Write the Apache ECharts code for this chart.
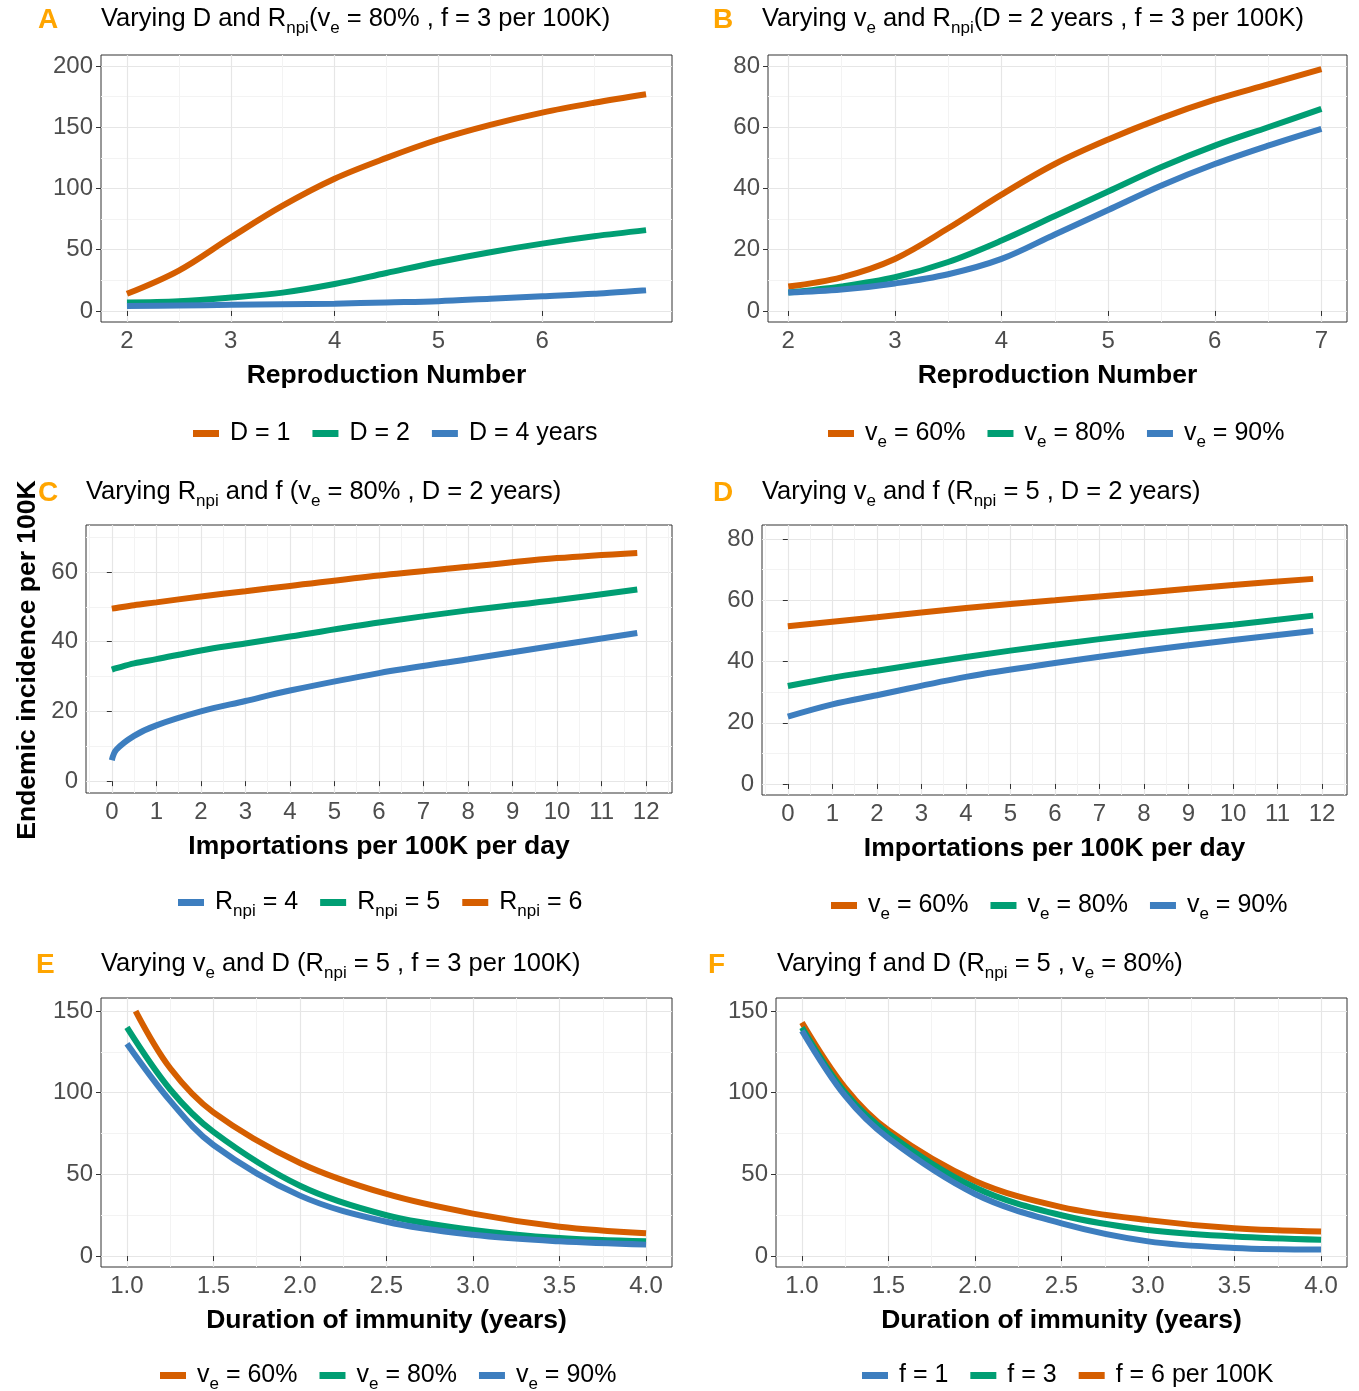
<!DOCTYPE html>
<html><head><meta charset="utf-8">
<script src="https://cdn.jsdelivr.net/npm/echarts@6/dist/echarts.min.js"></script>
<style>html,body{margin:0;background:#fff}#c{width:1359px;height:1391px}</style>
</head><body><div id="c"></div>
<script>
var ORANGE = '#D55E00', GREEN = '#009E73', BLUE = '#3D7EBF';

// Panel A: varying D
var xA = [2, 2.5, 3, 3.5, 4, 4.5, 5, 5.5, 6, 6.5, 7];
var aD1 = [14, 33, 60, 86, 108, 125, 140, 152, 162, 170, 177];
var aD2 = [7, 8, 11, 15, 22, 31, 40, 48, 55, 61, 66];
var aD4 = [4, 4.5, 5, 5.5, 6, 7, 8, 10, 12, 14, 17];
// Panel B: varying ve
var xB = [2, 2.5, 3, 3.5, 4, 4.5, 5, 5.5, 6, 6.5, 7];
var bV60 = [8, 11, 17, 27, 38, 48, 56, 63, 69, 74, 79];
var bV80 = [6, 8, 11, 16, 23, 31, 39, 47, 54, 60, 66];
var bV90 = [6, 7, 9, 12, 17, 25, 33, 41, 48, 54, 59.5];
// Panel C: varying Rnpi
var xC = [0, 0.1, 0.5, 1, 2, 3, 4, 6, 8, 10, 11.8];
var cR6 = [49.5, 49.7, 50.5, 51.3, 53, 54.5, 56, 59, 61.5, 64, 65.5];
var cR5 = [32, 32.4, 33.8, 35, 37.5, 39.5, 41.5, 45.5, 49, 52, 55];
var cR4 = [6, 9, 13, 16, 20, 23, 26, 31, 35, 39, 42.5];
// Panel D: varying ve
var xD = [0, 1, 2, 4, 6, 8, 10, 11.8];
var dV60 = [51.5, 53, 54.5, 57.5, 60, 62.5, 65, 67];
var dV80 = [32, 34.7, 37, 41.5, 45.5, 49, 52, 55];
var dV90 = [22, 26, 29, 35, 39.5, 43.5, 47, 50];
// Panel E: duration, varying ve
var xE = [1, 1.25, 1.5, 2, 2.5, 3, 3.5, 4];
var xE60 = [1.05, 1.25, 1.5, 2, 2.5, 3, 3.5, 4];
var eV60 = [150, 115, 88, 57, 38, 26, 18, 14];
var eV80 = [140, 102, 76, 43, 25, 16, 11, 9];
var eV90 = [130, 95, 68, 37, 21, 13, 9, 7];
// Panel F: duration, varying f
var xF = [1, 1.25, 1.5, 2, 2.5, 3, 3.5, 4];
var fF6 = [143, 103, 77, 46, 30, 22, 17, 15];
var fF3 = [140, 100, 75, 42, 25, 16, 12, 10];
var fF1 = [138, 98, 72, 38, 20, 9, 5, 4];

var ticksRep = [2, 3, 4, 5, 6];
var ticksRep7 = [2, 3, 4, 5, 6, 7];
var ticksImp = [0, 1, 2, 3, 4, 5, 6, 7, 8, 9, 10, 11, 12];
var ticksDur = [1, 1.5, 2, 2.5, 3, 3.5, 4];

function zip(xs, ys) { return xs.map(function (x, i) { return [x, ys[i]]; }); }
function mids(t) {
    var m = [];
    for (var i = 0; i < t.length - 1; i++) m.push((t[i] + t[i + 1]) / 2);
    m.unshift(t[0] - (t[1] - t[0]) / 2);
    m.push(t[t.length - 1] + (t[1] - t[0]) / 2);
    return m;
}

var FONT = 'Liberation Sans';
var sub = { fontSize: 17, verticalAlign: 'bottom', padding: [0, 0, -5, 0], color: '#000', fontFamily: FONT };
var rich = { s: sub };
var grids = [], xAxes = [], yAxes = [], series = [], legends = [], titles = [];

function panel(g, xr, xt, yr, yt, xname, lines, legDef, dec) {
    var gi = grids.length;
    grids.push({ left: g[0], top: g[1], width: g[2] - g[0], height: g[3] - g[1], show: true, borderColor: '#333', borderWidth: 1, backgroundColor: '#fff' });
    var axLab = { fontSize: 24, color: '#4d4d4d', fontFamily: FONT };
    var xi = xAxes.length, yi = yAxes.length;
    xAxes.push({
        type: 'value', gridIndex: gi, min: xr[0], max: xr[1], name: xname, nameLocation: 'middle', nameGap: 40,
        nameTextStyle: { fontSize: 26.5, fontWeight: 'bold', color: '#000', fontFamily: FONT },
        axisLine: { show: false }, axisTick: { show: true, length: 5, lineStyle: { color: '#333' }, customValues: xt },
        axisLabel: Object.assign({ customValues: xt, margin: 7, formatter: function (v) { return dec ? v.toFixed(1) : String(v); } }, axLab),
        splitLine: { show: true, lineStyle: { color: '#e6e6e6', width: 1.2 } }
    });
    xAxes.push({
        type: 'value', gridIndex: gi, min: xr[0], max: xr[1], z: 0, axisLine: { show: false }, axisTick: { show: false, customValues: mids(xt) },
        axisLabel: { show: false, customValues: mids(xt) }, splitLine: { show: true, lineStyle: { color: '#f3f3f3', width: 1 } }
    });
    yAxes.push({
        type: 'value', gridIndex: gi, min: yr[0], max: yr[1],
        axisLine: { show: false }, axisTick: { show: true, length: 5, lineStyle: { color: '#333' }, customValues: yt },
        axisLabel: Object.assign({ customValues: yt, margin: 8 }, axLab),
        splitLine: { show: true, lineStyle: { color: '#e6e6e6', width: 1.2 } }
    });
    yAxes.push({
        type: 'value', gridIndex: gi, min: yr[0], max: yr[1], z: 0, axisLine: { show: false }, axisTick: { show: false, customValues: mids(yt) },
        axisLabel: { show: false, customValues: mids(yt) }, splitLine: { show: true, lineStyle: { color: '#f3f3f3', width: 1 } }
    });
    lines.forEach(function (l) {
        series.push({
            type: 'line', name: l.name, xAxisIndex: xi, yAxisIndex: yi, data: zip(l.x, l.y), smooth: 0.35,
            showSymbol: false, color: l.c, lineStyle: { width: 6, color: l.c, cap: 'butt' }, z: 5
        });
    });
    legends.push({
        left: legDef.left, top: legDef.top, orient: 'horizontal', icon: 'rect', itemWidth: 26, itemHeight: 7, itemGap: 22,
        data: legDef.items, selectedMode: false,
        formatter: function (n) { return legDef.fmt[n]; },
        textStyle: { fontSize: 25, color: '#000', fontFamily: FONT, rich: rich, padding: [0, 0, 0, 6] }
    });
}

panel([101, 55, 672, 322], [1.75, 7.25], ticksRep, [-9, 209], [0, 50, 100, 150, 200], 'Reproduction Number',
    [{ name: 'D = 1', x: xA, y: aD1, c: ORANGE }, { name: 'D = 2', x: xA, y: aD2, c: GREEN }, { name: 'D = 4 years', x: xA, y: aD4, c: BLUE }],
    { left: 188, top: 416, items: ['D = 1', 'D = 2', 'D = 4 years'], fmt: { 'D = 1': 'D = 1', 'D = 2': 'D = 2', 'D = 4 years': 'D = 4 years' } });
panel([768, 55, 1347, 322], [1.81, 7.24], ticksRep7, [-3.6, 83.6], [0, 20, 40, 60, 80], 'Reproduction Number',
    [{ name: 'b60', x: xB, y: bV60, c: ORANGE }, { name: 'b80', x: xB, y: bV80, c: GREEN }, { name: 'b90', x: xB, y: bV90, c: BLUE }],
    { left: 823, top: 416, items: ['b60', 'b80', 'b90'], fmt: { b60: 'v{s|e} = 60%', b80: 'v{s|e} = 80%', b90: 'v{s|e} = 90%' } });
panel([86, 525, 672, 793], [-0.58, 12.58], ticksImp, [-3.4, 73.5], [0, 20, 40, 60], 'Importations per 100K per day',
    [{ name: 'c6', x: xC, y: cR6, c: ORANGE }, { name: 'c5', x: xC, y: cR5, c: GREEN }, { name: 'c4', x: xC, y: cR4, c: BLUE }],
    { left: 173, top: 885, items: ['c4', 'c5', 'c6'], fmt: { c4: 'R{s|npi} = 4', c5: 'R{s|npi} = 5', c6: 'R{s|npi} = 6' } });
panel([762, 525, 1347, 795], [-0.58, 12.56], ticksImp, [-3.6, 84.6], [0, 20, 40, 60, 80], 'Importations per 100K per day',
    [{ name: 'd60', x: xD, y: dV60, c: ORANGE }, { name: 'd80', x: xD, y: dV80, c: GREEN }, { name: 'd90', x: xD, y: dV90, c: BLUE }],
    { left: 826, top: 888, items: ['d60', 'd80', 'd90'], fmt: { d60: 'v{s|e} = 60%', d80: 'v{s|e} = 80%', d90: 'v{s|e} = 90%' } });
panel([101, 998, 672, 1267], [0.85, 4.15], ticksDur, [-6.7, 158], [0, 50, 100, 150], 'Duration of immunity (years)',
    [{ name: 'e60', x: xE60, y: eV60, c: ORANGE }, { name: 'e80', x: xE, y: eV80, c: GREEN }, { name: 'e90', x: xE, y: eV90, c: BLUE }],
    { left: 155, top: 1358, items: ['e60', 'e80', 'e90'], fmt: { e60: 'v{s|e} = 60%', e80: 'v{s|e} = 80%', e90: 'v{s|e} = 90%' } }, true);
panel([776, 998, 1347, 1267], [0.85, 4.15], ticksDur, [-6.7, 158], [0, 50, 100, 150], 'Duration of immunity (years)',
    [{ name: 'f6', x: xF, y: fF6, c: ORANGE }, { name: 'f3', x: xF, y: fF3, c: GREEN }, { name: 'f1', x: xF, y: fF1, c: BLUE }],
    { left: 857, top: 1358, items: ['f1', 'f3', 'f6'], fmt: { f1: 'f = 1', f3: 'f = 3', f6: 'f = 6 per 100K' } }, true);

var tStyle = { fontSize: 25.5, color: '#000', fontWeight: 'normal', fontFamily: FONT, rich: rich };
var lStyle = { fontSize: 28, color: '#FFA500', fontWeight: 'bold', fontFamily: FONT };
function title(x, y, t) { titles.push({ left: x, top: y, text: t, padding: 0, textStyle: tStyle }); }
function letter(x, y, t) { titles.push({ left: x, top: y, text: t, padding: 0, textStyle: lStyle }); }
letter(38, 6, 'A'); title(101, 6, 'Varying D and R{s|npi}(v{s|e} = 80% , f = 3 per 100K)');
letter(713, 6, 'B'); title(762, 6, 'Varying v{s|e} and R{s|npi}(D = 2 years , f = 3 per 100K)');
letter(38, 479, 'C'); title(86, 479, 'Varying R{s|npi} and f (v{s|e} = 80% , D = 2 years)');
letter(713, 479, 'D'); title(762, 479, 'Varying v{s|e} and f (R{s|npi} = 5 , D = 2 years)');
letter(36, 951, 'E'); title(101, 951, 'Varying v{s|e} and D (R{s|npi} = 5 , f = 3 per 100K)');
letter(708, 951, 'F'); title(777, 951, 'Varying f and D (R{s|npi} = 5 , v{s|e} = 80%)');

var chart = echarts.init(document.getElementById('c'), null, { renderer: 'canvas' });
chart.setOption({
    animation: false,
    backgroundColor: '#fff',
    title: titles,
    grid: grids,
    xAxis: xAxes,
    yAxis: yAxes,
    legend: legends,
    series: series,
    graphic: [{
        type: 'text', x: 28, y: 660, rotation: Math.PI / 2, z: 10,
        style: { text: 'Endemic incidence per 100K', fontSize: 26.5, fontWeight: 'bold', fill: '#000', fontFamily: FONT, align: 'center', verticalAlign: 'middle' }
    }]
});
</script>
</body></html>
